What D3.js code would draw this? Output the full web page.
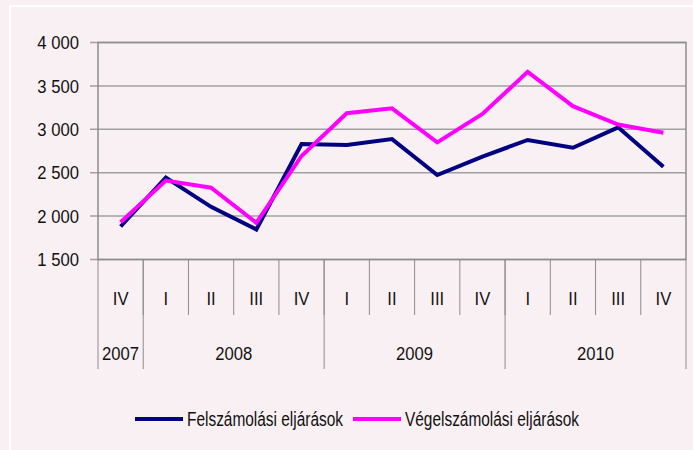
<!DOCTYPE html>
<html>
<head>
<meta charset="utf-8">
<script src="https://cdn.jsdelivr.net/npm/d3@7"></script>
<style>
  html, body { margin: 0; padding: 0; background: #f9f0f3; }
  svg { display: block; font-family: "Liberation Sans", Arial, sans-serif; }
</style>
</head>
<body>
<div id="chart"></div>
<script>
// quarterly counts, 2007 Q4 - 2010 Q4
const quarters = ["IV", "I", "II", "III", "IV", "I", "II", "III", "IV", "I", "II", "III", "IV"]
const yearLabels = ["2007", "2008", "2009", "2010"]
const yearSpans = [1, 4, 4, 4]
const felszamolasi = [1880, 2445, 2107, 1846, 2831, 2818, 2887, 2473, 2685, 2877, 2787, 3023, 2568]
const vegelszamolasi = [1930, 2410, 2327, 1923, 2693, 3185, 3242, 2850, 3177, 3662, 3266, 3055, 2960]
const yTicks = [1500, 2000, 2500, 3000, 3500, 4000]
const seriesNames = ["Felszámolási eljárások", "Végelszámolási eljárások"]
const seriesColors = ["#000080", "#ff00ff"]

const W = 693, H = 450
const plotL = 98, plotR = 686, plotT = 42.5, plotB = 259.5
const FS = 18.5, SX = 0.9

const svg = d3.select('#chart').append('svg')
    .attr('width', W).attr('height', H)

svg.append('rect')
    .attr('x', 0).attr('y', 0).attr('width', W).attr('height', H)
    .attr('fill', '#f9f0f3')
// white frame
svg.append('rect')
    .attr('x', 10).attr('y', 6).attr('width', W + 20).attr('height', H + 20)
    .attr('fill', 'none').attr('stroke', '#ffffff').attr('stroke-width', 2)

const x = d3.scaleBand().domain(d3.range(quarters.length)).range([plotL, plotR])
const y = d3.scaleLinear().domain([1500, 4000]).range([plotB, plotT])
const bw = x.bandwidth()
const cx = i => x(i) + bw / 2

const fmt = d3.formatLocale({ decimal: ",", thousands: "\u00a0", grouping: [3], currency: ["", ""] }).format(",")

// narrow-looking labels: squeeze horizontally
const label = (sel, fx, fy, anchor) => sel
    .attr('transform', (d, i) => `translate(${fx(d, i)},${fy(d, i)}) scale(${SX},1)`)
    .attr('text-anchor', anchor)
    .attr('font-size', FS)
    .attr('fill', '#111')

// gridlines + y ticks
svg.append('g').selectAll('line')
    .data(yTicks)
    .enter().append('line')
    .attr('x1', plotL - 8).attr('x2', plotR)
    .attr('y1', d => y(d)).attr('y2', d => y(d))
    .attr('stroke', '#a0a0a0').attr('stroke-width', 1.5)

svg.append('g').selectAll('text')
    .data(yTicks)
    .enter().append('text')
    .call(label, () => 79, d => y(d) + 6.6, 'end')
    .text(d => fmt(d))

// plot frame
svg.append('rect')
    .attr('x', plotL).attr('y', plotT)
    .attr('width', plotR - plotL).attr('height', plotB - plotT)
    .attr('fill', 'none').attr('stroke', '#8c8c8c').attr('stroke-width', 1.5)

// category axis: quarter separators
svg.append('g').selectAll('line')
    .data(d3.range(1, quarters.length))
    .enter().append('line')
    .attr('x1', d => x(d)).attr('x2', d => x(d))
    .attr('y1', plotB).attr('y2', 315)
    .attr('stroke', '#8c8c8c').attr('stroke-width', 1)

// year separators
const yearBounds = [0]
yearSpans.forEach(s => yearBounds.push(yearBounds[yearBounds.length - 1] + s))
const bx = d => d < quarters.length ? x(d) : plotR
svg.append('g').selectAll('line')
    .data(yearBounds)
    .enter().append('line')
    .attr('x1', bx).attr('x2', bx)
    .attr('y1', plotB).attr('y2', 369)
    .attr('stroke', '#8c8c8c').attr('stroke-width', 1)

svg.append('g').selectAll('text')
    .data(quarters)
    .enter().append('text')
    .call(label, (d, i) => cx(i), () => 305, 'middle')
    .text(d => d)

svg.append('g').selectAll('text')
    .data(yearLabels)
    .enter().append('text')
    .call(label, (d, i) => (bx(yearBounds[i]) + bx(yearBounds[i + 1])) / 2, () => 360, 'middle')
    .text(d => d)

// series lines
const line = d3.line().x((d, i) => cx(i)).y(d => y(d))
;[felszamolasi, vegelszamolasi].forEach((s, k) => {
    svg.append('path')
        .datum(s)
        .attr('d', line)
        .attr('fill', 'none')
        .attr('stroke', seriesColors[k])
        .attr('stroke-width', 4)
        .attr('stroke-linejoin', 'miter')
})

// legend
const legendX = [135, 353]
const legendW = [156, 174]
seriesNames.forEach((name, k) => {
    svg.append('line')
        .attr('x1', legendX[k]).attr('x2', legendX[k] + 48)
        .attr('y1', 419).attr('y2', 419)
        .attr('stroke', seriesColors[k]).attr('stroke-width', 4)
    svg.append('text')
        .attr('x', legendX[k] + 52).attr('y', 426)
        .attr('font-size', 19.5)
        .attr('textLength', legendW[k])
        .attr('lengthAdjust', 'spacingAndGlyphs')
        .attr('fill', '#111')
        .text(name)
})
</script>
</body>
</html>
